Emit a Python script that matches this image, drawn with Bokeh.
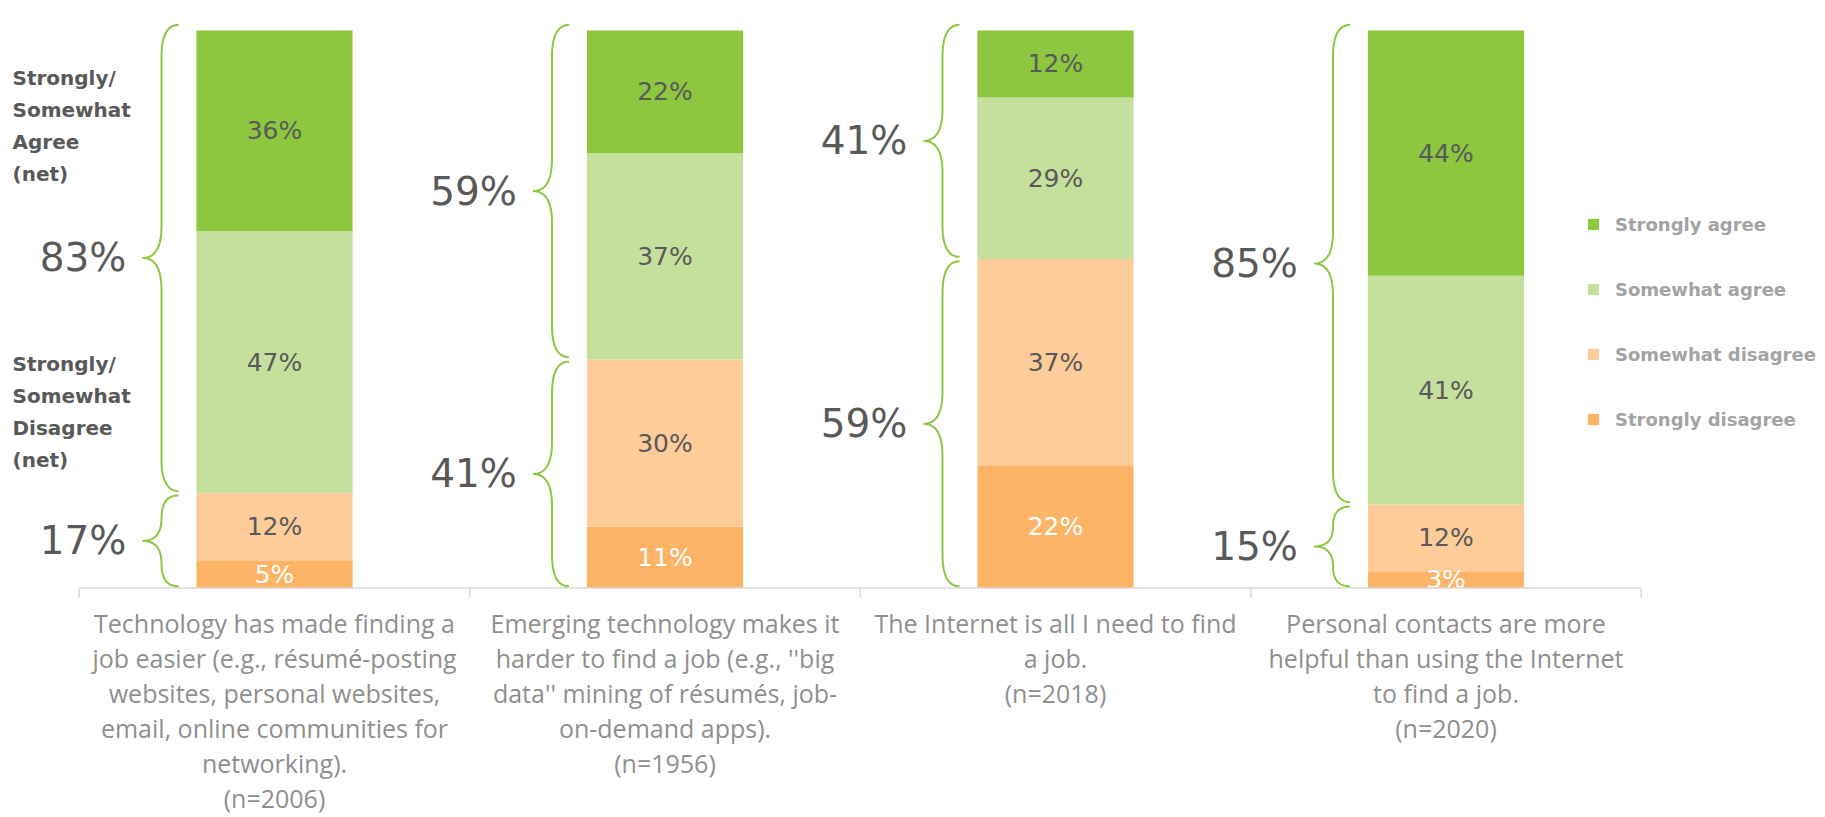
import numpy as np
from bokeh.plotting import figure
from bokeh.models import Range1d, Legend, LegendItem, ColumnDataSource
from bokeh.core.properties import value
from bokeh.embed import file_html
from bokeh.resources import INLINE

# ---------------- data ----------------
categories = ["tech_easier", "tech_harder", "internet_all", "personal_contacts"]
category_labels = [
    "Technology has made finding a\njob easier (e.g., résumé-posting\nwebsites, personal websites,\nemail, online communities for\nnetworking).\n(n=2006)",
    "Emerging technology makes it\nharder to find a job (e.g., ''big\ndata'' mining of résumés, job-\non-demand apps).\n(n=1956)",
    "The Internet is all I need to find\na job.\n(n=2018)",
    "Personal contacts are more\nhelpful than using the Internet\nto find a job.\n(n=2020)",
]
strongly_agree = [36, 22, 12, 44]
somewhat_agree = [47, 37, 29, 41]
somewhat_disagree = [12, 30, 37, 12]
strongly_disagree = [5, 11, 22, 3]
series_names = ["Strongly disagree", "Somewhat disagree", "Somewhat agree", "Strongly agree"]
net_side_labels = ["Strongly/\nSomewhat\nAgree\n(net)", "Strongly/\nSomewhat\nDisagree\n(net)"]

# ---------------- styles / layout ----------------
colors = ["#FDB466", "#FECC99", "#C5DF9D", "#8DC63F"]
seg_text_colors = ["#FFFFFF", "#595959", "#595959", "#595959"]
BRACE_COLOR = "#8DC63F"
TEXT_DARK = "#595959"
LABEL_GRAY = "#8F8F8F"
LEGEND_GRAY = "#A3A3A3"
AXIS_GRAY = "#D9D9D9"

W, H = 1825, 817
PAGE = 0
PPX = 390.5                     # px per category
PPY = (587.5 - 30.0) / 100.0    # px per percent
CX0 = 274.0                     # page x of first category centre
Y0 = 587.5                      # page y of 0 %
XS = (PAGE - CX0) / PPX
XE = (PAGE + W - CX0) / PPX
YT = (Y0 - PAGE) / PPY
YB = -(PAGE + H - Y0) / PPY
BAR_W = 0.4

p = figure(width=W, height=H, x_range=Range1d(XS, XE), y_range=Range1d(YB, YT),
           output_backend="svg", toolbar_location=None, min_border=0,
           x_axis_location=None, y_axis_location=None)
p.grid.grid_line_color = None
p.outline_line_color = None
p.background_fill_color = "white"
p.border_fill_color = "white"

n = len(categories)
xs = list(range(n))
stack_vals = [strongly_disagree, somewhat_disagree, somewhat_agree, strongly_agree]
keys = ["sd", "swd", "swa", "sa"]
src = ColumnDataSource(dict(x=xs, **{k: v for k, v in zip(keys, stack_vals)}))
renderers = p.vbar_stack(keys, x="x", width=BAR_W, fill_color=colors, line_color=None, source=src)

# segment labels
arr = np.array(stack_vals, dtype=float)
tops = np.cumsum(arr, axis=0)
bots = tops - arr
for k in range(len(keys)):
    mids = (tops[k] + bots[k]) / 2
    p.text(x=xs, y=list(mids), text=[f"{v}%" for v in stack_vals[k]],
           text_align="center", text_baseline="middle",
           text_font=value("DejaVu Sans"), text_font_size="25px",
           text_color=seg_text_colors[k])

# axis line and ticks
p.segment(x0=[-0.5], y0=[0], x1=[n - 0.5], y1=[0], line_color=AXIS_GRAY, line_width=1.5)
tick_x = [i - 0.5 for i in range(n + 1)]
p.segment(x0=tick_x, y0=[0] * len(tick_x), x1=tick_x, y1=[-10 / PPY] * len(tick_x),
          line_color=AXIS_GRAY, line_width=1.5)

# category labels
LINE_STEP = 35.0 / PPY
FIRST_Y = -(622 - Y0) / PPY
lx, ly, lt = [], [], []
for i, lab in enumerate(category_labels):
    for j, line in enumerate(lab.split("\n")):
        lx.append(i)
        ly.append(FIRST_Y - j * LINE_STEP)
        lt.append(line)
p.text(x=lx, y=ly, text=lt, text_align="center", text_baseline="middle",
       text_font=value("Open Sans"), text_font_size="25px", text_color=LABEL_GRAY)

# braces and net labels
END_PX, SPINE_PX, TIP_PX, R_PX = -96.0, -113.0, -132.0, 32.0
t = np.linspace(0, 1, 20)


def qb(a, b, c):
    return ((1 - t) ** 2 * a[0] + 2 * (1 - t) * t * b[0] + t ** 2 * c[0],
            (1 - t) ** 2 * a[1] + 2 * (1 - t) * t * b[1] + t ** 2 * c[1])


def brace(xc, y_lo, y_hi):
    xe = xc + END_PX / PPX
    xsp = xc + SPINE_PX / PPX
    xt = xc + TIP_PX / PPX
    ym = (y_lo + y_hi) / 2
    r = min(R_PX, (y_hi - y_lo) * PPY / 4) / PPY
    parts = [
        qb((xe, y_hi), (xsp, y_hi), (xsp, y_hi - r)),
        qb((xsp, ym + r), (xsp, ym), (xt, ym)),
        qb((xt, ym), (xsp, ym), (xsp, ym - r)),
        qb((xsp, y_lo + r), (xsp, y_lo), (xe, y_lo)),
    ]
    bx = np.concatenate([pp[0] for pp in parts])
    by = np.concatenate([pp[1] for pp in parts])
    return list(bx), list(by), ym


agree_net = [a + b for a, b in zip(strongly_agree, somewhat_agree)]
disagree_net = [a + b for a, b in zip(somewhat_disagree, strongly_disagree)]
bxs, bys, nx, ny, nt = [], [], [], [], []
for i in range(n):
    for lo, hi, v in [(disagree_net[i] + 0.4, 101.0, agree_net[i]),
                      (0.3, disagree_net[i] - 0.4, disagree_net[i])]:
        bx, by, ym = brace(i, lo, hi)
        bxs.append(bx)
        bys.append(by)
        nx.append(i - BAR_W / 2)
        ny.append(ym)
        nt.append(f"{v}%")
p.multi_line(xs=bxs, ys=bys, line_color=BRACE_COLOR, line_width=2)
p.text(x=nx, y=ny, text=nt, x_offset=-70, text_align="right", text_baseline="middle",
       text_font=value("DejaVu Sans"), text_font_size="39px", text_color=TEXT_DARK)

# side annotation (net)
SIDE_STEP = 32.3 / PPY
side_first = [(Y0 - 77) / PPY, (Y0 - 363) / PPY]
sx, sy, st = [], [], []
for first, lab in zip(side_first, net_side_labels):
    for j, line in enumerate(lab.split("\n")):
        sx.append(XS)
        sy.append(first - j * SIDE_STEP)
        st.append(line)
p.text(x=sx, y=sy, text=st, x_offset=12, text_align="left", text_baseline="middle",
       text_font=value("DejaVu Sans"), text_font_style="bold", text_font_size="20px",
       text_color=TEXT_DARK)

# legend
items = [LegendItem(label=name, renderers=[r]) for name, r in zip(series_names, renderers)][::-1]
legend = Legend(items=items, location=(1586, int(PAGE + H - 429.5)),
                orientation="vertical", padding=0, margin=0, spacing=43,
                glyph_width=14, glyph_height=14, label_height=22, label_standoff=15,
                label_text_font="DejaVu Sans", label_text_font_style="bold",
                label_text_font_size="18px", label_text_color=LEGEND_GRAY,
                border_line_color=None, background_fill_alpha=0)
p.add_layout(legend)

open("out.html", "w").write(file_html(p, INLINE))
